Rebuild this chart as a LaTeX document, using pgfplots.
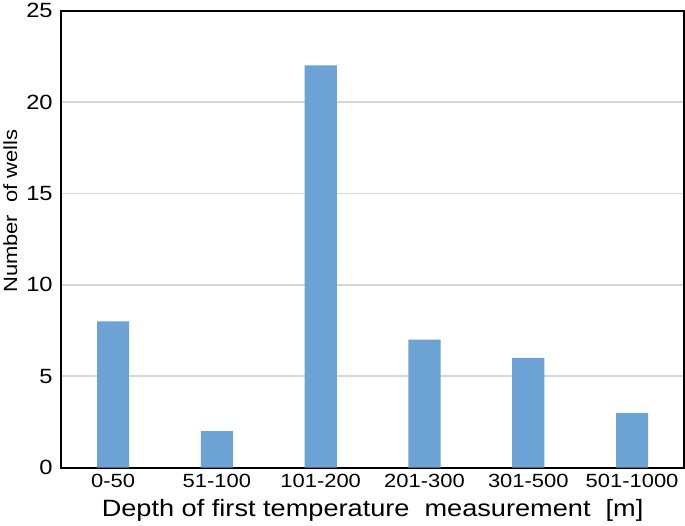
\documentclass[border=0pt]{standalone}
\usepackage{pgfplots}
\pgfplotsset{compat=1.18}
\usepackage{fontspec}
\setmainfont{Liberation Sans}[FakeStretch=1.15]
\definecolor{barblue}{HTML}{6CA2D4}
\definecolor{gridgray}{HTML}{D6D6D6}
\begin{document}
\begin{tikzpicture}[x=1pt,y=1pt]
\begin{axis}[
    scale only axis,
    width=620pt, height=455pt,
    xmin=-0.5, xmax=5.5,
    ymin=0, ymax=25,
    ytick={0,5,10,15,20,25},
    xtick=data,
    xticklabels={0-50,51-100,101-200,201-300,301-500,501-1000},
    major tick length=0pt,
    axis line style={line width=2pt, black},
    ymajorgrids,
    major grid style={gridgray, line width=1.8pt},
    xticklabel style={font=\fontsize{19}{21}\selectfont, yshift=-3pt},
    yticklabel style={font=\fontsize{20.5}{22}\selectfont, xshift=-5pt},
    /pgf/number format/assume math mode=true,
    xlabel={Depth of first temperature\ \ measurement\ \ [m]},
    ylabel={Number\ \ of wells},
    xlabel style={font=\fontsize{23.5}{25}\selectfont, yshift=-5pt},
    ylabel style={font=\fontsize{19}{20}\selectfont, yshift=2pt, xshift=28pt},
]
\addplot[ybar, bar width=32pt, fill=barblue, draw=none] coordinates {
    (0,8) (1,2) (2,22) (3,7) (4,6) (5,3)
};
\end{axis}
\end{tikzpicture}
\end{document}
